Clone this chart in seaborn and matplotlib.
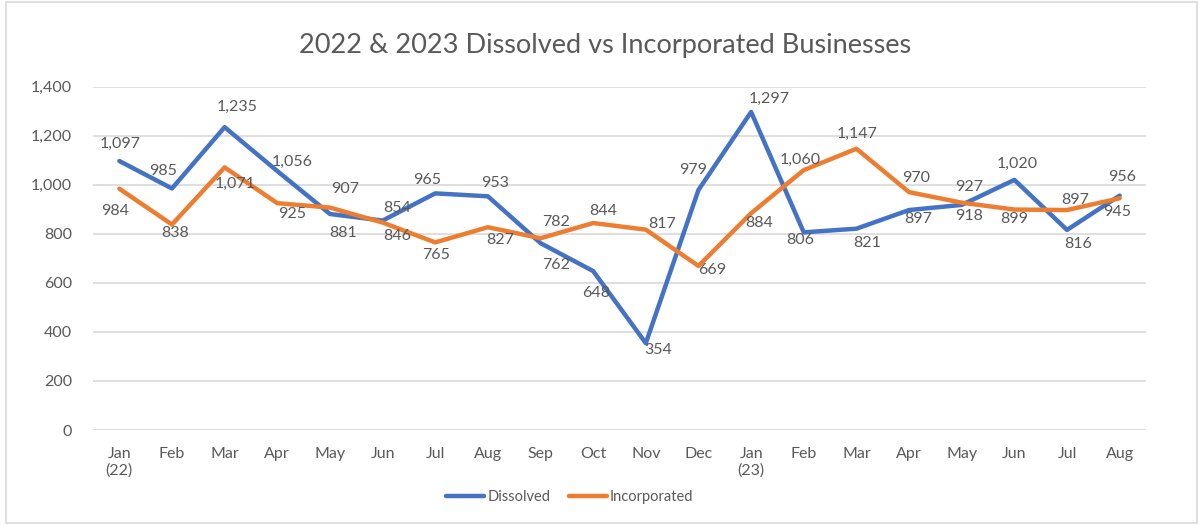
import matplotlib
matplotlib.use("Agg")
import matplotlib.pyplot as plt
import matplotlib.ticker as mticker
from matplotlib.patches import Rectangle
from matplotlib.lines import Line2D
import seaborn as sns
import pandas as pd

months = ["Jan\n(22)", "Feb", "Mar", "Apr", "May", "Jun", "Jul", "Aug", "Sep", "Oct",
          "Nov", "Dec", "Jan\n(23)", "Feb", "Mar", "Apr", "May", "Jun", "Jul", "Aug"]
dissolved = [1097, 985, 1235, 1056, 881, 854, 965, 953, 762, 648,
             354, 979, 1297, 806, 821, 897, 918, 1020, 816, 956]
incorporated = [984, 838, 1071, 925, 907, 846, 765, 827, 782, 844,
                817, 669, 884, 1060, 1147, 970, 927, 899, 897, 945]

# label offsets in pixels (dx, dy) relative to each point
dis_off = [(1, 17), (-9, 17), (12, 20), (15, 9), (13, -19), (15, 13), (-8, 13), (7, 13),
           (16, -22), (3, -22), (12, -7), (-5, 20), (18, 13), (-4, -8), (11, -14), (9, -9),
           (7, -11), (3, 16), (11, -14), (2, 19)]
inc_off = [(-4, -22), (3, -8), (10, -17), (15, -11), (15, 19), (15, -13), (1, -13), (12, -13),
           (16, 16), (10, 12), (16, 6), (14, -4), (8, -10), (-4, 10), (1, 15), (7, 14),
           (7, 16), (0, -9), (8, 10), (-3, -14)]

blue = "#4472C4"
orange = "#ED7D31"
txt = "#595959"

sns.set_style("white")
plt.rcParams["font.family"] = ["Lato", "DejaVu Sans"]

n = len(months)
df = pd.DataFrame({
    "x": list(range(n)) * 2,
    "value": dissolved + incorporated,
    "series": ["Dissolved"] * n + ["Incorporated"] * n,
})

fig = plt.figure(figsize=(12.03, 5.25), dpi=100)
ax = fig.add_axes([93 / 1203, 1 - 430 / 525, (1146 - 93) / 1203, (430 - 86.7) / 525])

sns.lineplot(data=df, x="x", y="value", hue="series", palette=[blue, orange],
             linewidth=3.2, ax=ax, legend=False, solid_capstyle="round")

ax.set_xlim(-0.5, n - 0.5)
ax.set_ylim(0, 1400)
ax.set_yticks(range(0, 1401, 200))
ax.yaxis.set_major_formatter(mticker.FuncFormatter(lambda v, p: f"{int(v):,}"))
ax.set_xticks(range(n))
ax.set_xticklabels(months)
ax.grid(axis="y", color="#D9D9D9", linewidth=1.2)
ax.set_axisbelow(True)
for s in ax.spines.values():
    s.set_visible(False)
ax.tick_params(axis="both", length=0, labelsize=11.5, colors=txt)
ax.tick_params(axis="x", pad=12)
ax.tick_params(axis="y", pad=15)
ax.set_xlabel("")
ax.set_ylabel("")

for i in range(n):
    ax.annotate(f"{dissolved[i]:,}", (i, dissolved[i]), xytext=dis_off[i],
                textcoords="offset pixels", ha="center", va="center", fontsize=11.5, color=txt)
    ax.annotate(f"{incorporated[i]:,}", (i, incorporated[i]), xytext=inc_off[i],
                textcoords="offset pixels", ha="center", va="center", fontsize=11.5, color=txt)

fig.text(605 / 1203, 1 - 45 / 525, "2022 & 2023 Dissolved vs Incorporated Businesses",
         ha="center", va="center", fontsize=19.5, color=txt)

handles = [Line2D([0], [0], color=blue, lw=3.2, solid_capstyle="round"),
           Line2D([0], [0], color=orange, lw=3.2, solid_capstyle="round")]
leg = fig.legend(handles, ["Dissolved", "Incorporated"], loc="center",
                 bbox_to_anchor=(570 / 1203, 1 - 497 / 525), ncol=2, frameon=False,
                 fontsize=10.5, handlelength=2.6, handletextpad=0.2, columnspacing=1.3)
for t in leg.get_texts():
    t.set_color(txt)

fig.patches.append(Rectangle((6 / 1203, 2 / 525), 1 - 12 / 1203, 1 - 4 / 525,
                             transform=fig.transFigure, fill=False,
                             edgecolor="#D9D9D9", linewidth=1.2))

fig.savefig("out.png", dpi=100)
